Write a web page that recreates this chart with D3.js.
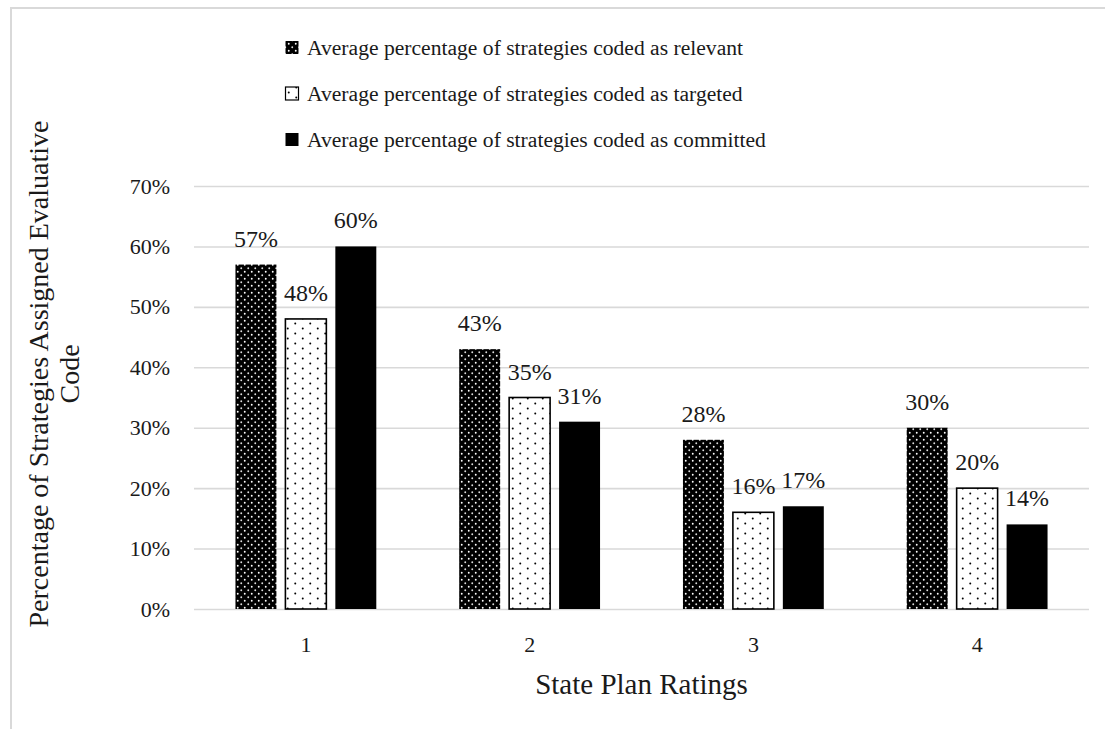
<!DOCTYPE html>
<html>
<head>
<meta charset="utf-8">
<script src="https://cdn.jsdelivr.net/npm/d3@7"></script>
<style>
  body { margin: 0; background: #fff; }
  svg text { font-family: "Liberation Serif", serif !important; fill: #1a1a1a; }
</style>
</head>
<body>
<script>
// data
const ratings = ["1", "2", "3", "4"];
const seriesNames = [
  "Average percentage of strategies coded as relevant",
  "Average percentage of strategies coded as targeted",
  "Average percentage of strategies coded as committed"
];
const relevant = [57, 43, 28, 30];
const targeted = [48, 35, 16, 20];
const committed = [60, 31, 17, 14];
const yTicks = [0, 10, 20, 30, 40, 50, 60, 70];

const seriesValues = [relevant, targeted, committed];
const seriesKeys = ["relevant", "targeted", "committed"];
const fills = ["url(#patRelevant)", "url(#patTargeted)", "#000"];
const serif = '"Liberation Serif", serif';

// set the dimensions and margins of the graph
const W = 1105, H = 729;
const margin = {top: 186, right: 16, bottom: 120, left: 194},
    width = W - margin.left - margin.right,
    height = H - margin.top - margin.bottom;

const root = d3.select("body")
  .append("svg")
  .attr("width", W)
  .attr("height", H)
  .attr("font-family", serif);

// patterns
const defs = root.append("defs");
const p1 = defs.append("pattern")
  .attr("id", "patRelevant")
  .attr("patternUnits", "userSpaceOnUse")
  .attr("width", 7).attr("height", 7);
p1.append("rect").attr("width", 7).attr("height", 7).attr("fill", "#000");
p1.append("circle").attr("cx", 1.75).attr("cy", 1.75).attr("r", 0.95).attr("fill", "#fff");
p1.append("circle").attr("cx", 5.25).attr("cy", 5.25).attr("r", 0.95).attr("fill", "#ddd");

const p2 = defs.append("pattern")
  .attr("id", "patTargeted")
  .attr("patternUnits", "userSpaceOnUse")
  .attr("width", 15).attr("height", 10);
p2.append("rect").attr("width", 15).attr("height", 10).attr("fill", "#fff");
p2.append("circle").attr("cx", 3.75).attr("cy", 2.5).attr("r", 1).attr("fill", "#000");
p2.append("circle").attr("cx", 11.25).attr("cy", 7.5).attr("r", 1).attr("fill", "#000");

// chart frame
root.append("rect")
  .attr("x", 11).attr("y", 8)
  .attr("width", 1200).attr("height", 800)
  .attr("fill", "none")
  .attr("stroke", "#d9d9d9")
  .attr("stroke-width", 2);

const svg = root.append("g")
  .attr("transform", `translate(${margin.left}, ${margin.top})`);

// scales
const x = d3.scaleBand()
  .domain(ratings)
  .range([0, width]);

const xInner = d3.scaleBand()
  .domain(seriesKeys)
  .range([0, x.bandwidth()])
  .paddingInner(0.18)
  .paddingOuter(0.83);

const y = d3.scaleLinear()
  .domain([0, 70])
  .range([height, 0]);

// gridlines + y labels
const yAxis = svg.append("g")
  .call(d3.axisLeft(y)
    .tickValues(yTicks)
    .tickSize(-width)
    .tickPadding(24)
    .tickFormat(d => d + "%"))
  .attr("font-family", serif)
  .attr("font-size", 22);
yAxis.select(".domain").remove();
yAxis.selectAll("line").attr("stroke", "#d9d9d9").attr("stroke-width", 1.6);
yAxis.selectAll("text").attr("fill", "#1a1a1a");

// x labels
const xAxis = svg.append("g")
  .attr("transform", `translate(0, ${height})`)
  .call(d3.axisBottom(x).tickSize(0).tickPadding(27))
  .attr("font-family", serif)
  .attr("font-size", 22);
xAxis.select(".domain").remove();
xAxis.selectAll("text").attr("fill", "#1a1a1a");

// bars
const rows = [];
ratings.forEach((r, i) => {
  seriesKeys.forEach((k, j) => {
    rows.push({rating: r, key: k, value: seriesValues[j][i], idx: j});
  });
});

const groups = svg.selectAll("g.bar")
  .data(rows)
  .join("g")
  .attr("class", "bar");

groups.append("rect")
  .attr("x", d => x(d.rating) + xInner(d.key))
  .attr("y", d => y(d.value))
  .attr("width", xInner.bandwidth())
  .attr("height", d => height - y(d.value))
  .attr("fill", d => fills[d.idx])
  .attr("stroke", d => d.idx === 1 ? "#000" : "none")
  .attr("stroke-width", 1.6);

groups.append("text")
  .attr("x", d => x(d.rating) + xInner(d.key) + xInner.bandwidth() / 2)
  .attr("y", d => y(d.value) - 18)
  .attr("text-anchor", "middle")
  .attr("font-size", 24)
  .text(d => d.value + "%");

// legend
const legend = root.append("g");
seriesNames.forEach((name, j) => {
  const ly = 47.5 + j * 46;
  legend.append("rect")
    .attr("x", 285.5).attr("y", ly - 6.5)
    .attr("width", 13).attr("height", 13)
    .attr("fill", fills[j])
    .attr("stroke", j === 1 ? "#000" : "none")
    .attr("stroke-width", 1.2);
  legend.append("text")
    .attr("x", 307)
    .attr("y", ly)
    .attr("dy", "0.35em")
    .attr("font-size", 21.6)
    .text(name);
});

// axis titles
root.append("text")
  .attr("x", margin.left + width / 2)
  .attr("y", 694)
  .attr("text-anchor", "middle")
  .attr("font-size", 29)
  .text("State Plan Ratings");

const yTitle = root.append("text")
  .attr("transform", "translate(48, 374) rotate(-90)")
  .attr("text-anchor", "middle")
  .attr("font-size", 28);
yTitle.append("tspan").attr("x", 0).attr("y", 0).text("Percentage of Strategies Assigned Evaluative");
yTitle.append("tspan").attr("x", 0).attr("y", 31).text("Code");
</script>
</body>
</html>
